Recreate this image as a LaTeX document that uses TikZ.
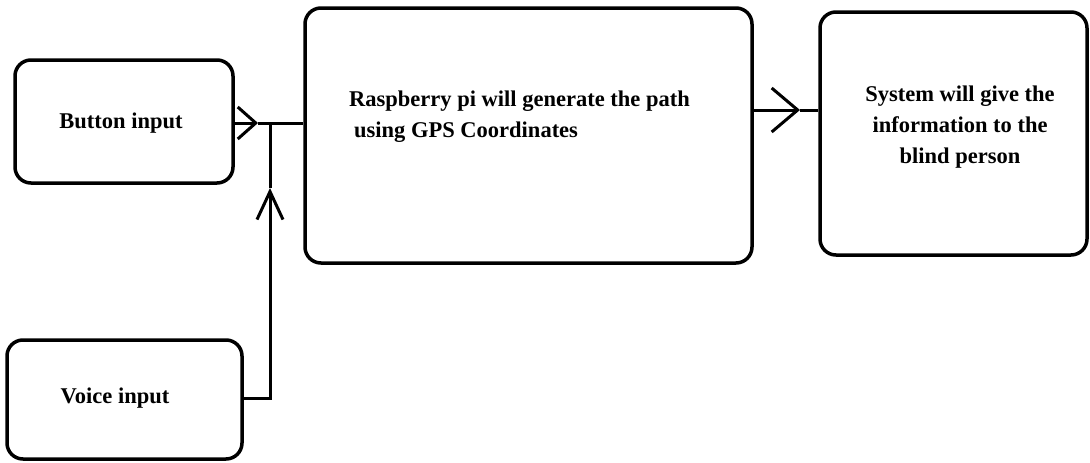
\documentclass[tikz,border=0pt]{standalone}
\usepackage{fontspec}
\setmainfont{Liberation Serif}
\usetikzlibrary{arrows.meta}
\begin{document}
\begin{tikzpicture}[x=1pt,y=-1pt,
  box/.style={draw=black,line width=3.5pt,rounded corners=16pt,inner sep=0pt},
  lbl/.style={font=\bfseries\fontsize{22.5}{31}\selectfont,inner sep=0pt,align=center},
  conn/.style={line width=3pt},
  chevA/.style={line width=3pt,-{Straight Barb[length=18pt,width=32pt,line width=3pt]}},
  chevB/.style={line width=3pt,-{Straight Barb[length=28pt,width=26pt,line width=3pt]}},
  chevC/.style={line width=3pt,-{Straight Barb[length=26pt,width=44pt,line width=3pt]}}
]
\useasboundingbox (0,0) rectangle (1090,463);
\node[box,minimum width=218pt,minimum height=123pt] (button) at (124,121.5) {};
\node[box,minimum width=235pt,minimum height=119pt] (voice) at (124.5,399.5) {};
\node[box,minimum width=447pt,minimum height=255pt] (rasp) at (528.5,135.5) {};
\node[box,minimum width=267pt,minimum height=243pt] (sys) at (953.5,133.5) {};

\node[lbl] (buttonText) at (121,123) {Button input};
\node[lbl] (voiceText) at (115,398) {Voice input};
\node[lbl,align=left,anchor=west] (raspText) at (349,117) {Raspberry pi will generate the path\\\hspace*{5pt}using GPS Coordinates};
\node[lbl] (sysText) at (960,127) {System will give the\\information to the\\blind person};

\coordinate (junction) at (270,123);
\coordinate (tipA) at (258,123);
\coordinate (tipB) at (270,188);
\coordinate (tipC) at (800,110);

\draw[chevA] (button.east |- tipA) -- (tipA);
\draw[conn] (tipA) -- (rasp.west |- tipA);
\draw[chevB] (voice.east |- 0,398) -| (tipB);
\draw[conn] (tipB) -- (junction);
\draw[chevC] (rasp.east |- tipC) -- (tipC);
\draw[conn] (tipC) -- (sys.west |- tipC);
\end{tikzpicture}
\end{document}
